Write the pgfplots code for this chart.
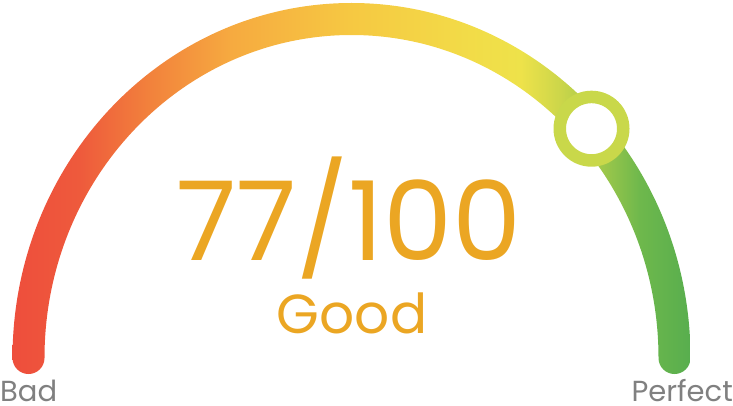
\documentclass[border=0pt]{standalone}
\usepackage{pgfplots}
\pgfplotsset{compat=1.18}
\usepackage{fontspec}
\setmainfont{Poppins}
\definecolor{gA}{RGB}{238,78,60}
\definecolor{gB}{RGB}{238,90,60}
\definecolor{gC}{RGB}{242,130,60}
\definecolor{gD}{RGB}{246,170,64}
\definecolor{gE}{RGB}{246,200,66}
\definecolor{gF}{RGB}{242,220,72}
\definecolor{gG}{RGB}{238,226,74}
\definecolor{gH}{RGB}{204,214,74}
\definecolor{gI}{RGB}{160,200,74}
\definecolor{gJ}{RGB}{110,184,76}
\definecolor{gK}{RGB}{88,174,78}
\definecolor{ringc}{RGB}{201,216,74}
\definecolor{scoreorange}{RGB}{235,166,35}
\definecolor{labelgray}{RGB}{128,128,128}
\pgfdeclarehorizontalshading{gauge}{100bp}{color(0bp)=(gA); color(25bp)=(gA); color(30bp)=(gB); color(35.2bp)=(gC); color(41.1bp)=(gD); color(49.9bp)=(gE); color(58.8bp)=(gF); color(62.5bp)=(gG); color(65.4bp)=(gH); color(68.4bp)=(gI); color(71.3bp)=(gJ); color(75bp)=(gK); color(100bp)=(gK)}
\begin{document}
\begin{tikzpicture}
\useasboundingbox (0,0) rectangle (733pt,405pt);
\begin{axis}[at={(0,0)}, anchor=south west, scale only axis, width=733pt, height=405pt,
  xmin=0, xmax=733, ymin=0, ymax=405, hide axis, clip=false]
% gauge track (0 = left end, 100 = right end)
\begin{scope}
\clip (axis cs:12.5,47) arc[start angle=180, end angle=0, x radius=339pt, y radius=355pt]
  arc[start angle=0, end angle=-180, radius=16pt]
  arc[start angle=0, end angle=180, x radius=307pt, y radius=323pt]
  arc[start angle=0, end angle=-180, radius=16pt] -- cycle;
\shade[shading=gauge] (axis cs:12,0) rectangle (axis cs:690,405);
\end{scope}
% score marker at 77/100
\addplot[only marks, mark=*, mark size=31.75pt,
  mark options={draw=ringc, fill=white, line width=12.5pt}] coordinates {(591.5,276.3)};
\node[anchor=base, inner sep=0, text=scoreorange, font=\fontsize{110}{110}\selectfont] at (axis cs:349,145) {77/100};
\node[anchor=base, inner sep=0, text=scoreorange, font=\fontsize{55}{55}\selectfont] at (axis cs:352,72) {Good};
\node[anchor=base west, inner sep=0, text=labelgray, font=\fontsize{29}{29}\selectfont] at (axis cs:0,4) {Bad};
\node[anchor=base east, inner sep=0, text=labelgray, font=\fontsize{29}{29}\selectfont] at (axis cs:733,4) {Perfect};
\end{axis}
\end{tikzpicture}
\end{document}
